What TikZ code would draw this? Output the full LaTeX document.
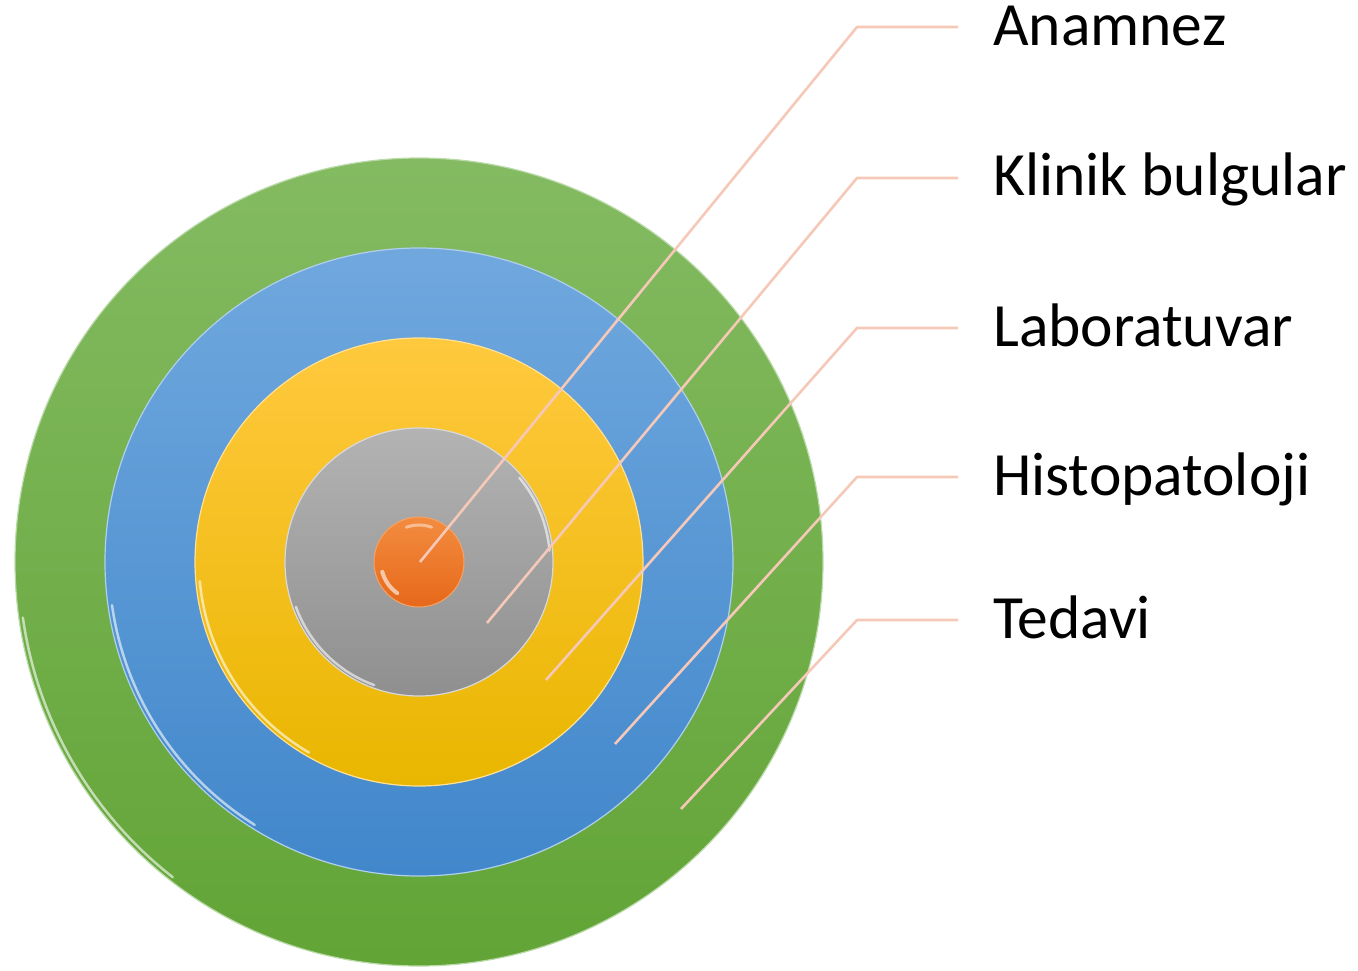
\documentclass[tikz,border=0pt]{standalone}
\usepackage{fontspec}
\setmainfont{Carlito}
\definecolor{gtop}{HTML}{84BB62}
\definecolor{gbot}{HTML}{62A436}
\definecolor{btop}{HTML}{70A8DE}
\definecolor{bbot}{HTML}{4187CB}
\definecolor{ytop}{HTML}{FFC93E}
\definecolor{ybot}{HTML}{E9B600}
\definecolor{stop}{HTML}{B3B3B3}
\definecolor{sbot}{HTML}{8F8F8F}
\definecolor{otop}{HTML}{F38C40}
\definecolor{obot}{HTML}{E7681A}
\definecolor{leader}{HTML}{F5C8B8}
\begin{document}
\begin{tikzpicture}[x=1pt,y=-1pt,
  ring/.style={circle,inner sep=0pt,minimum size=#1},
  leaderline/.style={draw=leader,line width=2.6pt,line join=round},
  lbl/.style={anchor=base west,inner sep=0pt,font=\fontsize{61.5}{72}\selectfont},
  shine/.style={white,line width=2.5pt,opacity=.6,line cap=round}]
\useasboundingbox (0,0) rectangle (1358,971);
\coordinate (c) at (419,562);
% rings
\node[ring=808pt,top color=gtop,bottom color=gbot,draw=gtop!55!white,line width=1.2pt] (green) at (c) {};
\node[ring=628pt,top color=btop,bottom color=bbot,draw=btop!55!white,line width=1.2pt] (blue) at (c) {};
\node[ring=448pt,top color=ytop,bottom color=ybot,draw=ytop!55!white,line width=1.2pt] (yellow) at (c) {};
\node[ring=268pt,top color=stop,bottom color=sbot,draw=stop!50!white,line width=1.2pt] (gray) at (c) {};
\node[ring=90pt,top color=otop,bottom color=obot,draw=otop!80!white,line width=1pt] (orange) at (c) {};
% bevel highlights (user angle = - page angle because y is flipped)
\draw[shine] ([shift={(-188:400)}]c) arc[start angle=-188,end angle=-232,radius=400];
\draw[shine] ([shift={(-188:310)}]c) arc[start angle=-188,end angle=-238,radius=310];
\draw[shine] ([shift={(-185:220)}]c) arc[start angle=-185,end angle=-240,radius=220];
\draw[shine] ([shift={(-200:131)}]c) arc[start angle=-200,end angle=-250,radius=131];
\draw[shine] ([shift={(-5:131)}]c) arc[start angle=-5,end angle=-40,radius=131];
\draw[shine,line width=4pt,opacity=.6] ([shift={(-195:38)}]c) arc[start angle=-195,end angle=-235,radius=38];
\draw[shine,line width=3pt,opacity=.45] ([shift={(-70:37)}]c) arc[start angle=-70,end angle=-110,radius=37];
% leader points
\coordinate (s1) at (420,562); \coordinate (k1) at (857,27);  \coordinate (e1) at (958,27);
\coordinate (s2) at (487,623); \coordinate (k2) at (857,178); \coordinate (e2) at (958,178);
\coordinate (s3) at (546,680); \coordinate (k3) at (857,328); \coordinate (e3) at (958,328);
\coordinate (s4) at (615,744); \coordinate (k4) at (857,477); \coordinate (e4) at (958,477);
\coordinate (s5) at (681,809); \coordinate (k5) at (857,620); \coordinate (e5) at (958,620);
\draw[leaderline] (s1) -- (k1) -- (e1);
\draw[leaderline] (s2) -- (k2) -- (e2);
\draw[leaderline] (s3) -- (k3) -- (e3);
\draw[leaderline] (s4) -- (k4) -- (e4);
\draw[leaderline] (s5) -- (k5) -- (e5);
% labels
\node[lbl] (t1) at (993,46) {Anamnez};
\node[lbl] (t2) at (993,196) {Klinik bulgular};
\node[lbl] (t3) at (993,346) {Laboratuvar};
\node[lbl] (t4) at (993,495) {Histopatoloji};
\node[lbl] (t5) at (993,638) {Tedavi};
\end{tikzpicture}
\end{document}
